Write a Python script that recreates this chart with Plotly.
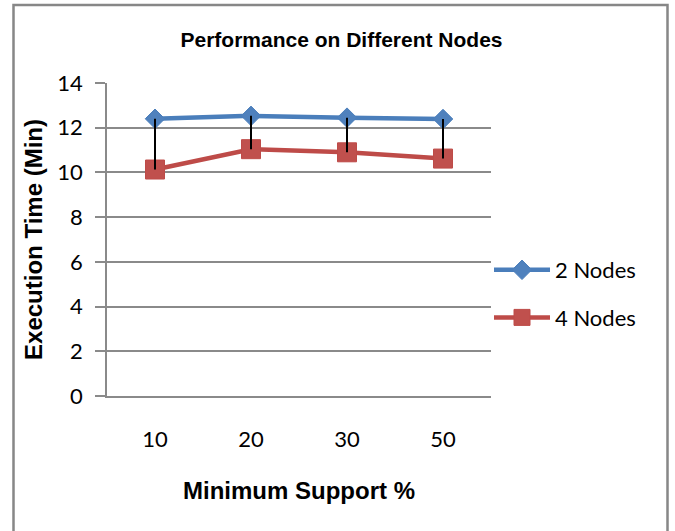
import plotly.graph_objects as go

categories = ["10", "20", "30", "50"]
nodes2 = [12.40, 12.53, 12.45, 12.39]
nodes4 = [10.13, 11.04, 10.90, 10.62]
series_names = ["2 Nodes", "4 Nodes"]
y_ticks = [0, 2, 4, 6, 8, 10, 12, 14]

xi = list(range(len(categories)))

W, H = 675, 531
ML, MR, MT, MB = 107, 184, 83, 135
PW = W - ML - MR
PH = H - MT - MB

def px_x(p):
    return (p - ML) / PW

def px_y(p):
    return (H - MB - p) / PH

BLUE_LINE = "#4A7EBB"
BLUE_FILL = "#4F81BD"
RED_LINE = "#BE4B48"
RED_FILL = "#C0504D"
GRID = "#8A8A8A"

tick_font = dict(family="Lato, Open Sans, sans-serif", size=22, color="#000000")
title_font = dict(family="Liberation Sans, Arial, sans-serif", size=24, color="#000000")

fig = go.Figure()

fig.add_trace(go.Scatter(
    x=xi, y=nodes2, name=series_names[0], mode="lines+markers",
    line=dict(color=BLUE_LINE, width=4.5),
    marker=dict(symbol="diamond", size=15, color=BLUE_FILL, line=dict(color=BLUE_LINE, width=1)),
    legendgroup="a",
))
fig.add_trace(go.Scatter(
    x=xi, y=nodes4, name=series_names[1], mode="lines+markers",
    line=dict(color=RED_LINE, width=4.5),
    marker=dict(symbol="square", size=19, color=RED_FILL, line=dict(color=RED_LINE, width=1)),
    legendgroup="b",
))

# high-low (drop) lines between the two series
hx, hy = [], []
for i, (a, b) in enumerate(zip(nodes2, nodes4)):
    hx += [xi[i], xi[i], None]
    hy += [a, b, None]
fig.add_trace(go.Scatter(
    x=hx, y=hy, mode="lines", line=dict(color="#000000", width=2),
    showlegend=False, hoverinfo="skip",
))

fig.update_layout(
    width=W, height=H,
    margin=dict(l=ML, r=MR, t=MT, b=MB, pad=0),
    paper_bgcolor="#FFFFFF", plot_bgcolor="#FFFFFF",
    title=dict(
        text="<b>Performance on Different Nodes</b>",
        font=dict(family="Liberation Sans, Arial, sans-serif", size=21, color="#000000"),
        x=px_x(341.5), xref="paper", xanchor="center",
        y=1 - 40 / H, yref="container", yanchor="middle",
    ),
    xaxis=dict(
        range=[-0.5, len(categories) - 0.5],
        tickmode="array", tickvals=xi, ticktext=categories,
        showgrid=False, zeroline=False,
        showline=True, linecolor=GRID, linewidth=1.5,
        ticks="", tickfont=tick_font, ticklabelstandoff=23,
        title=dict(text="<b>Minimum Support %</b>", font=title_font, standoff=31),
        fixedrange=True,
    ),
    yaxis=dict(
        range=[0, 14], tickmode="array", tickvals=y_ticks,
        showgrid=True, gridcolor=GRID, gridwidth=1.5,
        zeroline=False, showline=True, linecolor=GRID, linewidth=1.5,
        ticks="outside", ticklen=10, tickcolor=GRID, tickwidth=1.5,
        tickfont=tick_font, ticklabelstandoff=8,
        title=dict(text="<b>Execution Time (Min)</b>", font=title_font, standoff=8),
        fixedrange=True,
    ),
    legend=dict(
        x=px_x(489), y=px_y(249), xanchor="left", yanchor="top",
        xref="paper", yref="paper",
        font=tick_font, bgcolor="rgba(0,0,0,0)",
        itemwidth=56, tracegroupgap=16,
    ),
    shapes=[dict(
        type="rect", xref="paper", yref="paper",
        x0=px_x(13.5), x1=px_x(667.5), y0=px_y(540), y1=px_y(5),
        line=dict(color="#878787", width=2.5), fillcolor="rgba(0,0,0,0)", layer="below",
    )],
)

fig.write_html(
    "out.html",
    config={"displayModeBar": False},
    post_script="document.body.style.margin='0';",
)
